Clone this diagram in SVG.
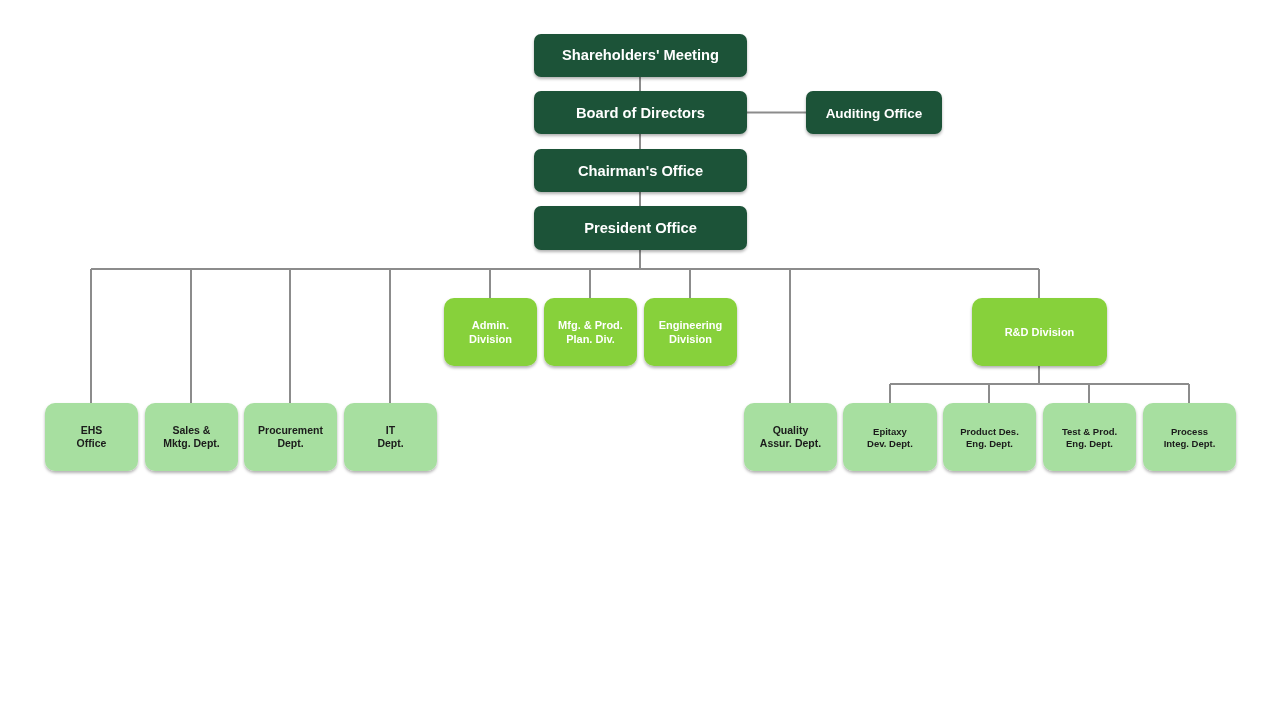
<svg xmlns="http://www.w3.org/2000/svg" width="1280" height="720" viewBox="0 0 1280 720">
<style>
.dk{fill:#1c5237}
.md{fill:#87d13a}
.lt{fill:#a7dfa0}
.ln{stroke:#8c8c8c;stroke-width:2;fill:none}
text{font-family:"Liberation Sans",Arial,sans-serif;font-weight:bold;text-anchor:middle}
.t1{fill:#fff;font-size:14.7px}
.t2{fill:#fff;font-size:13.5px}
.t3{fill:#fff;font-size:11px}
.t4{fill:#1a1a1a;font-size:10.5px}
.t5{fill:#1a1a1a;font-size:9.5px}
</style>
<defs>
<filter id="sh" x="-20%" y="-20%" width="140%" height="150%">
<feDropShadow dx="0" dy="2" stdDeviation="1.5" flood-color="#000" flood-opacity="0.3"/>
</filter>
</defs>
<rect width="1280" height="720" fill="#fff"/>
<g id="connectors" class="ln">
<path d="M640 77V91M640 134V149M640 192V206M747 112.5H806"/>
<path d="M640 250V269M91 269H1039M91 269V403M191 269V403M290 269V403M390 269V403M490 269V298M590 269V298M690 269V298M790 269V403M1039 269V298"/>
<path d="M1039 366V384M890 384H1189M890 384V403M989 384V403M1089 384V403M1189 384V403"/>
</g>
<g id="shareholders" filter="url(#sh)"><rect class="dk" x="534" y="34" width="213" height="43" rx="7"/><text class="t1" x="640.5" y="60">Shareholders' Meeting</text></g>
<g id="board" filter="url(#sh)"><rect class="dk" x="534" y="91" width="213" height="43" rx="7"/><text class="t1" x="640.5" y="118">Board of Directors</text></g>
<g id="auditing" filter="url(#sh)"><rect class="dk" x="806" y="91" width="136" height="43" rx="7"/><text class="t2" x="874" y="118">Auditing Office</text></g>
<g id="chairman" filter="url(#sh)"><rect class="dk" x="534" y="149" width="213" height="43" rx="7"/><text class="t1" x="640.5" y="176">Chairman's Office</text></g>
<g id="president" filter="url(#sh)"><rect class="dk" x="534" y="206" width="213" height="44" rx="7"/><text class="t1" x="640.5" y="233">President Office</text></g>
<g id="admin" filter="url(#sh)"><rect class="md" x="444" y="298" width="93" height="68" rx="10"/><text class="t3" x="490.5" y="329">Admin.</text><text class="t3" x="490.5" y="343">Division</text></g>
<g id="mfg" filter="url(#sh)"><rect class="md" x="544" y="298" width="93" height="68" rx="10"/><text class="t3" x="590.5" y="329">Mfg. &amp; Prod.</text><text class="t3" x="590.5" y="343">Plan. Div.</text></g>
<g id="engineering" filter="url(#sh)"><rect class="md" x="644" y="298" width="93" height="68" rx="10"/><text class="t3" x="690.5" y="329">Engineering</text><text class="t3" x="690.5" y="343">Division</text></g>
<g id="rnd" filter="url(#sh)"><rect class="md" x="972" y="298" width="135" height="68" rx="10"/><text class="t3" x="1039.5" y="336">R&amp;D Division</text></g>
<g id="ehs" filter="url(#sh)"><rect class="lt" x="45" y="403" width="93" height="68" rx="10"/><text class="t4" x="91.5" y="434">EHS</text><text class="t4" x="91.5" y="447">Office</text></g>
<g id="sales" filter="url(#sh)"><rect class="lt" x="145" y="403" width="93" height="68" rx="10"/><text class="t4" x="191.5" y="434">Sales &amp;</text><text class="t4" x="191.5" y="447">Mktg. Dept.</text></g>
<g id="procurement" filter="url(#sh)"><rect class="lt" x="244" y="403" width="93" height="68" rx="10"/><text class="t4" x="290.5" y="434">Procurement</text><text class="t4" x="290.5" y="447">Dept.</text></g>
<g id="it" filter="url(#sh)"><rect class="lt" x="344" y="403" width="93" height="68" rx="10"/><text class="t4" x="390.5" y="434">IT</text><text class="t4" x="390.5" y="447">Dept.</text></g>
<g id="quality" filter="url(#sh)"><rect class="lt" x="744" y="403" width="93" height="68" rx="10"/><text class="t4" x="790.5" y="434">Quality</text><text class="t4" x="790.5" y="447">Assur. Dept.</text></g>
<g id="epitaxy" filter="url(#sh)"><rect class="lt" x="843" y="403" width="94" height="68" rx="10"/><text class="t5" x="890" y="435">Epitaxy</text><text class="t5" x="890" y="447">Dev. Dept.</text></g>
<g id="product" filter="url(#sh)"><rect class="lt" x="943" y="403" width="93" height="68" rx="10"/><text class="t5" x="989.5" y="435">Product Des.</text><text class="t5" x="989.5" y="447">Eng. Dept.</text></g>
<g id="test" filter="url(#sh)"><rect class="lt" x="1043" y="403" width="93" height="68" rx="10"/><text class="t5" x="1089.5" y="435">Test &amp; Prod.</text><text class="t5" x="1089.5" y="447">Eng. Dept.</text></g>
<g id="process" filter="url(#sh)"><rect class="lt" x="1143" y="403" width="93" height="68" rx="10"/><text class="t5" x="1189.5" y="435">Process</text><text class="t5" x="1189.5" y="447">Integ. Dept.</text></g>
</svg>
